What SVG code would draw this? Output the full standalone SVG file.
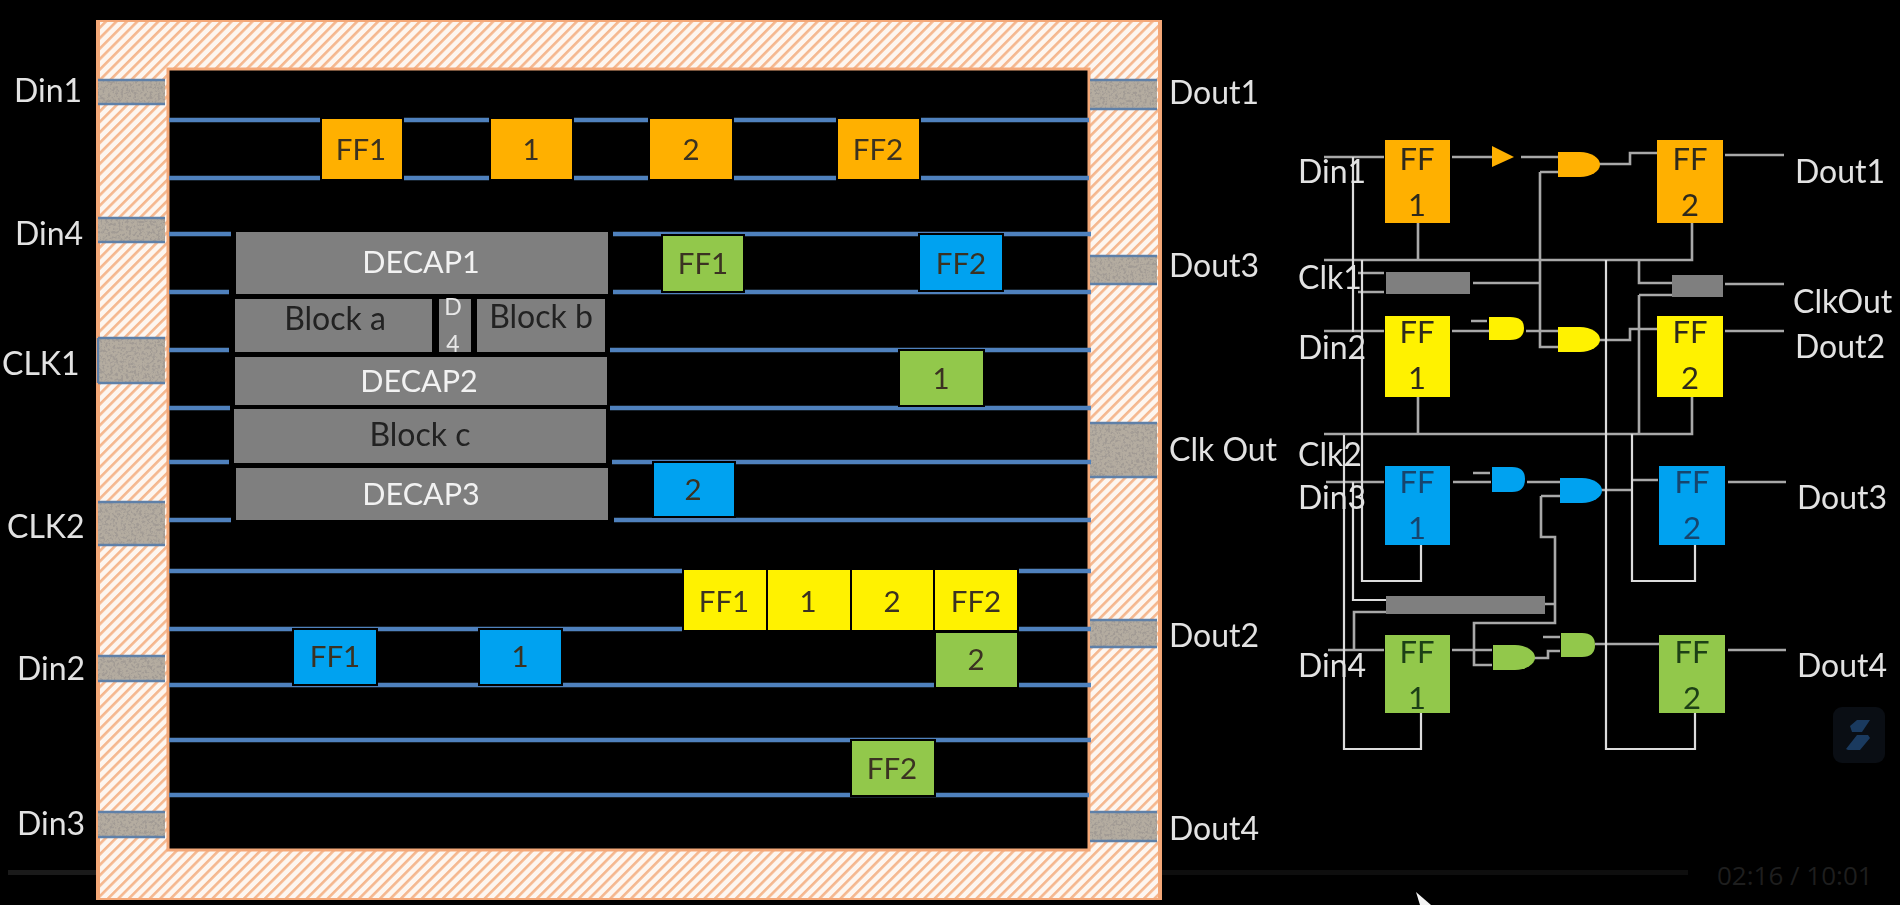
<svg xmlns="http://www.w3.org/2000/svg" width="1900" height="905" viewBox="0 0 1900 905">
<style>
text{font-family:Lato,"Open Sans","Liberation Sans",sans-serif}
.lb{font-size:32px;fill:#e2e2e2}
.c{text-anchor:middle}
.dk{font-size:29.5px;fill:#3a3320}
.wh{font-size:30.5px;fill:#f2f2f2}
.ins{font-size:32px;fill:#222}
.sf{font-size:31px;fill:#2e2a1c}
.bus{stroke:#4f81bd;stroke-width:4.6;fill:none}
.w{stroke:#a8a8a8;stroke-width:2.6;fill:none}
.t{stroke:#dcdcdc;stroke-width:2.2;fill:none}
.or{fill:#ffb000}.ye{fill:#fff200}.bl{fill:#00a2f0}.gr{fill:#92c84c}.gy{fill:#7f7f7f}
.cell{stroke:#000;stroke-width:2}
.pad{fill:#b4aca0;filter:url(#gran)}
.edge{fill:none;stroke:#5f80a8;stroke-width:2.4}
</style>
<defs>
<pattern id="hatch" width="7.4" height="7.4" patternUnits="userSpaceOnUse" patternTransform="rotate(45)">
<rect width="7.4" height="7.4" fill="#fdf6f0"/><rect width="2.6" height="7.4" fill="#f5b78e"/>
</pattern>
<filter id="gran" x="0" y="0" width="1" height="1">
<feTurbulence type="fractalNoise" baseFrequency="0.38" numOctaves="3" seed="4" result="n"/>
<feColorMatrix in="n" type="matrix" values="0 0 0 0 0.36  0 0 0 0 0.33  0 0 0 0 0.30  5 0 0 0 -2.3" result="s"/>
<feComposite in="s" in2="SourceGraphic" operator="atop" result="m"/>
<feMerge><feMergeNode in="SourceGraphic"/><feMergeNode in="m"/></feMerge>
</filter>
<filter id="soft" x="0" y="0" width="1" height="1"><feGaussianBlur stdDeviation="0.6"/></filter>
<path id="and" d="M0 0H22A20 12.5 0 0 1 22 25H0Z"/>
</defs>
<rect width="1900" height="905" fill="#000"/>
<g id="player">
<rect x="8" y="870" width="100" height="5" fill="#1a1a1a"/>
<rect x="1150" y="870" width="538" height="5" fill="#0e0e0e"/>
<rect x="1833" y="707" width="52" height="56" rx="9" fill="#0a0e14"/>
<path d="M1850 726L1857 720H1870L1862 732H1852ZM1846 749L1857 735H1868L1870 738L1860 750H1848Z" fill="#1a3a5f"/>
<text x="1717" y="885" font-size="26" fill="#1e1e1e" style="font-family:'Open Sans',sans-serif">02:16 / 10:01</text>
<path d="M1416 892L1420 905H1431Z" fill="#f4f4f4"/>
</g>
<g filter="url(#soft)">
<g id="die">
<rect x="98" y="20" width="1062" height="880" fill="url(#hatch)" stroke="#f4a878" stroke-width="4"/>
<rect x="168" y="69" width="921" height="781" fill="#000" stroke="#f4a878" stroke-width="3"/>
</g>
<g id="pads">
<rect class="pad" x="98" y="80" width="67" height="24"/>
<rect class="pad" x="98" y="218" width="67" height="24"/>
<rect class="pad" x="98" y="338" width="67" height="45"/>
<rect class="pad" x="98" y="502" width="67" height="43"/>
<rect class="pad" x="98" y="656" width="67" height="25"/>
<rect class="pad" x="98" y="812" width="67" height="25"/>
<rect class="pad" x="1090" y="80" width="67" height="29"/>
<rect class="pad" x="1090" y="256" width="67" height="28"/>
<rect class="pad" x="1090" y="423" width="67" height="54"/>
<rect class="pad" x="1090" y="620" width="67" height="27"/>
<rect class="pad" x="1090" y="812" width="67" height="29"/>
<path class="edge" d="M98 80H165M98 104H165M98 218H165M98 242H165M98 338V383M98 338H165M98 383H165M98 502H165M98 545H165M98 656H165M98 681H165M98 812H165M98 837H165M1090 80H1157M1090 109H1157M1090 256H1157M1090 284H1157M1090 423H1157M1090 477H1157M1090 620H1157M1090 647H1157M1090 812H1157M1090 841H1157"/>
</g>
<g id="connectors-layout">
<path class="bus" d="M169 120H1089M169 178H1089M169 234H231M613 234H1091M169 292H229M613 292H1091M169 350H229M610 350H1091M169 408H230M610 408H1091M169 462H229M612 462H1091M169 520H231M614 520H1091M169 571H1091M169 629H1091M169 685H1091M169 740H1091M169 795H1089"/>
</g>
<g id="layout-cells" text-anchor="middle">
<g id="o-ff1"><rect class="or cell" x="321" y="118" width="82" height="62"/><text class="dk c" x="361" y="160">FF1</text></g>
<g id="o-1"><rect class="or cell" x="490" y="118" width="83" height="62"/><text class="dk c" x="531" y="160">1</text></g>
<g id="o-2"><rect class="or cell" x="649" y="118" width="84" height="62"/><text class="dk c" x="691" y="160">2</text></g>
<g id="o-ff2"><rect class="or cell" x="837" y="118" width="83" height="62"/><text class="dk c" x="878" y="160">FF2</text></g>
<g id="decap1"><rect class="gy" x="236" y="232" width="372" height="62"/><text class="wh c" x="421" y="273">DECAP1</text></g>
<g id="block-a"><rect class="gy" x="235" y="299" width="197" height="53"/><text class="ins c" x="335" y="330">Block a</text></g>
<g id="d4"><rect class="gy" x="439" y="299" width="32" height="53"/><text class="c" x="453" y="315" font-size="23" fill="#e8e8e8">D</text><text class="c" x="453" y="352" font-size="23" fill="#e8e8e8">4</text></g>
<g id="block-b"><rect class="gy" x="477" y="299" width="128" height="53"/><text class="ins c" x="541" y="328">Block b</text></g>
<g id="decap2"><rect class="gy" x="235" y="357" width="372" height="48"/><text class="wh c" x="419" y="392">DECAP2</text></g>
<g id="block-c"><rect class="gy" x="234" y="409" width="372" height="54"/><text class="ins c" x="420" y="446">Block c</text></g>
<g id="decap3"><rect class="gy" x="236" y="468" width="372" height="52"/><text class="wh c" x="421" y="505">DECAP3</text></g>
<g id="g-ff1"><rect class="gr cell" x="662" y="235" width="82" height="57"/><text class="dk c" x="703" y="274">FF1</text></g>
<g id="b-ff2"><rect class="bl cell" x="919" y="234" width="84" height="57"/><text class="dk c" x="961" y="274">FF2</text></g>
<g id="g-1"><rect class="gr cell" x="899" y="350" width="85" height="56"/><text class="dk c" x="941" y="389">1</text></g>
<g id="b-2"><rect class="bl cell" x="653" y="462" width="82" height="55"/><text class="dk c" x="693" y="500">2</text></g>
<g id="y-ff1"><rect class="ye cell" x="683" y="569" width="84" height="62"/><text class="dk c" x="724" y="612">FF1</text></g>
<g id="y-1"><rect class="ye cell" x="767" y="569" width="84" height="62"/><text class="dk c" x="808" y="612">1</text></g>
<g id="y-2"><rect class="ye cell" x="851" y="569" width="83" height="62"/><text class="dk c" x="892" y="612">2</text></g>
<g id="y-ff2"><rect class="ye cell" x="934" y="569" width="84" height="62"/><text class="dk c" x="976" y="612">FF2</text></g>
<g id="g-2"><rect class="gr cell" x="935" y="632" width="83" height="56"/><text class="dk c" x="976" y="670">2</text></g>
<g id="b-ff1"><rect class="bl cell" x="293" y="629" width="84" height="56"/><text class="dk c" x="335" y="667">FF1</text></g>
<g id="b-1"><rect class="bl cell" x="479" y="629" width="83" height="56"/><text class="dk c" x="520" y="667">1</text></g>
<g id="g-ff2"><rect class="gr cell" x="851" y="740" width="84" height="56"/><text class="dk c" x="892" y="779">FF2</text></g>
</g>
<g id="layout-labels">
<text class="lb" x="14" y="102">Din1</text>
<text class="lb" x="15" y="245">Din4</text>
<text class="lb" x="2" y="375">CLK1</text>
<text class="lb" x="7" y="538">CLK2</text>
<text class="lb" x="17" y="680">Din2</text>
<text class="lb" x="17" y="835">Din3</text>
<text class="lb" x="1169" y="104">Dout1</text>
<text class="lb" x="1169" y="277">Dout3</text>
<text class="lb" x="1169" y="461">Clk Out</text>
<text class="lb" x="1169" y="647">Dout2</text>
<text class="lb" x="1169" y="840">Dout4</text>
</g>
<g id="connectors">
<path class="w" d="M1324 157H1384M1452 157H1492M1521 157H1558M1599 164H1630V153H1657M1725 155H1784"/>
<path class="w" d="M1324 260H1692V223M1418 260V223M1358 273H1384M1358 292H1384M1473 283H1540M1540 172H1558M1540 172V347H1558"/>
<path class="w" d="M1639 260V283H1672M1639 295H1672M1639 295V434M1725 284H1784"/>
<path class="w" d="M1324 331H1384M1452 331H1489M1471 321H1487M1526 331H1558M1599 340H1630V329H1657M1725 331H1784"/>
<path class="w" d="M1324 434H1692V397M1418 434V397"/>
<path class="w" d="M1326 482H1384M1453 482H1491M1473 473H1490M1527 482H1560M1600 490H1632M1632 480H1658M1728 482H1786"/>
<path class="w" d="M1541 496H1560M1541 496V537H1555V623H1474V665H1492M1545 604H1555"/>
<path class="w" d="M1328 650H1384M1452 650H1492M1533 658H1548V651H1560M1543 637H1560M1595 644H1659M1728 650H1786"/>
<path class="w" d="M1354 650V612H1386"/>
<path class="t" d="M1353 157V332M1353 482V600H1386M1362 260V581H1421V545M1344 435V749H1421V713M1606 260V749H1695V713M1632 434V581H1695V545"/>
</g>
<g id="ff-orange-1"><rect class="or" x="1385" y="140" width="65" height="83"/><text class="sf c" x="1417" y="170">FF</text><text class="sf c" x="1417" y="216">1</text></g>
<g id="ff-orange-2"><rect class="or" x="1657" y="140" width="66" height="83"/><text class="sf c" x="1690" y="170">FF</text><text class="sf c" x="1690" y="216">2</text></g>
<g id="ff-yellow-1"><rect class="ye" x="1385" y="316" width="65" height="81"/><text class="sf c" x="1417" y="343">FF</text><text class="sf c" x="1417" y="389">1</text></g>
<g id="ff-yellow-2"><rect class="ye" x="1657" y="316" width="66" height="81"/><text class="sf c" x="1690" y="343">FF</text><text class="sf c" x="1690" y="389">2</text></g>
<g id="ff-blue-1"><rect class="bl" x="1385" y="466" width="65" height="79"/><text class="sf c" x="1417" y="493" style="fill:#14456e">FF</text><text class="sf c" x="1417" y="539" style="fill:#14456e">1</text></g>
<g id="ff-blue-2"><rect class="bl" x="1659" y="466" width="66" height="79"/><text class="sf c" x="1692" y="493" style="fill:#14456e">FF</text><text class="sf c" x="1692" y="539" style="fill:#14456e">2</text></g>
<g id="ff-green-1"><rect class="gr" x="1385" y="635" width="65" height="78"/><text class="sf c" x="1417" y="663" style="fill:#1f4015">FF</text><text class="sf c" x="1417" y="709" style="fill:#1f4015">1</text></g>
<g id="ff-green-2"><rect class="gr" x="1659" y="635" width="66" height="78"/><text class="sf c" x="1692" y="663" style="fill:#1f4015">FF</text><text class="sf c" x="1692" y="709" style="fill:#1f4015">2</text></g>
<g id="buf-orange"><path class="or" d="M1492 146L1514 157L1492 167Z"/></g>
<g id="gate-orange"><use href="#and" class="or" x="1558" y="152"/></g>
<g id="gate-yellow-a"><path class="ye" d="M1489 317H1510Q1524 317 1524 328Q1524 340 1510 340H1489Z"/></g>
<g id="gate-yellow-b"><use href="#and" class="ye" x="1558" y="327"/></g>
<g id="gate-blue-a"><path class="bl" d="M1492 467H1512Q1525 467 1525 479Q1525 492 1512 492H1492Z"/></g>
<g id="gate-blue-b"><use href="#and" class="bl" x="1560" y="478"/></g>
<g id="gate-green-a"><use href="#and" class="gr" x="1493" y="645"/></g>
<g id="gate-green-b"><path class="gr" d="M1561 633H1582Q1595 633 1595 645Q1595 657 1582 657H1561Z"/></g>
<g id="decap-top"><rect class="gy" x="1386" y="272" width="84" height="22"/></g>
<g id="decap-out"><rect class="gy" x="1672" y="275" width="51" height="22"/></g>
<g id="decap-mid"><rect class="gy" x="1386" y="596" width="159" height="18"/></g>
<g id="schematic-labels">
<text class="lb" x="1298" y="183">Din1</text>
<text class="lb" x="1298" y="289">Clk1</text>
<text class="lb" x="1298" y="359">Din2</text>
<text class="lb" x="1298" y="466">Clk2</text>
<text class="lb" x="1298" y="509">Din3</text>
<text class="lb" x="1298" y="677">Din4</text>
<text class="lb" x="1795" y="183">Dout1</text>
<text class="lb" x="1793" y="313">ClkOut</text>
<text class="lb" x="1795" y="358">Dout2</text>
<text class="lb" x="1797" y="509">Dout3</text>
<text class="lb" x="1797" y="677">Dout4</text>
</g>
</g>
</svg>
